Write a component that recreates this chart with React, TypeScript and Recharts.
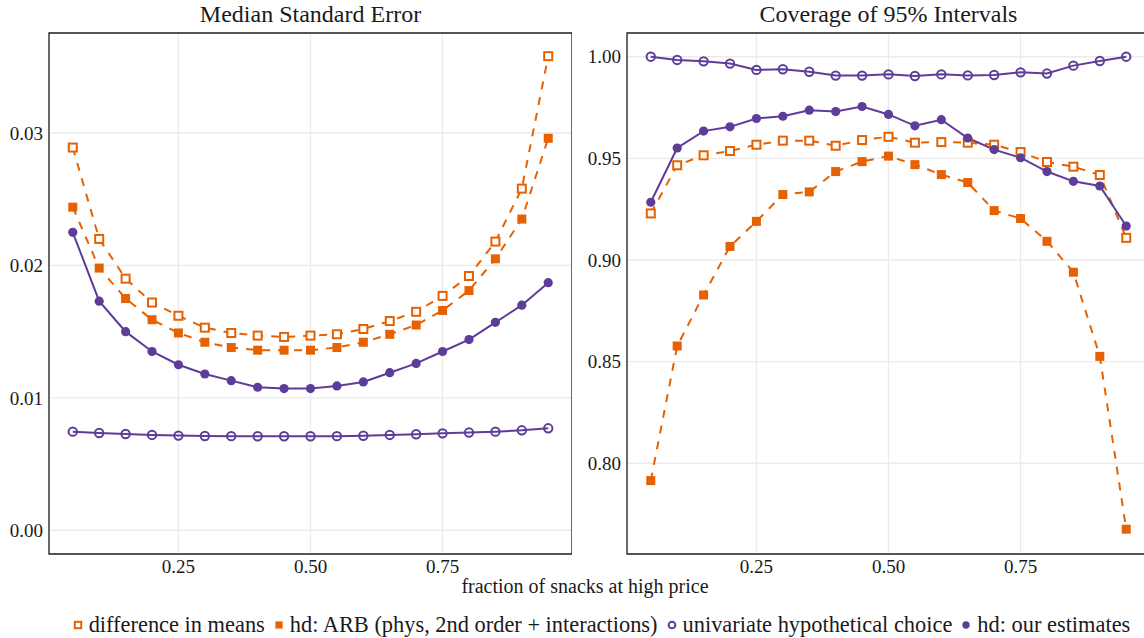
import React from 'react';
import { LineChart, Line, XAxis, YAxis, CartesianGrid, ReferenceArea } from 'recharts';

const fractions = [0.05, 0.1, 0.15, 0.2, 0.25, 0.3, 0.35, 0.4, 0.45, 0.5, 0.55, 0.6, 0.65, 0.7, 0.75, 0.8, 0.85, 0.9, 0.95];

// median standard error
const seDiffMeans = [0.0289, 0.022, 0.019, 0.0172, 0.0162, 0.0153, 0.0149, 0.0147, 0.0146, 0.0147, 0.0148, 0.0152, 0.0158, 0.0165, 0.0177, 0.0192, 0.0218, 0.0258, 0.0358];
const seArb = [0.0244, 0.0198, 0.0175, 0.0159, 0.0149, 0.0142, 0.0138, 0.0136, 0.0136, 0.0136, 0.0138, 0.0142, 0.0148, 0.0155, 0.0166, 0.0181, 0.0205, 0.0235, 0.0296];
const seUnivariate = [0.00745, 0.00735, 0.00727, 0.0072, 0.00715, 0.00712, 0.00711, 0.0071, 0.0071, 0.0071, 0.00711, 0.00714, 0.0072, 0.00725, 0.00732, 0.00738, 0.00745, 0.00755, 0.0077];
const seHd = [0.0225, 0.0173, 0.015, 0.0135, 0.0125, 0.0118, 0.0113, 0.0108, 0.0107, 0.0107, 0.0109, 0.0112, 0.0119, 0.0126, 0.0135, 0.0144, 0.0157, 0.017, 0.0187];

// coverage of 95% intervals
const covDiffMeans = [0.9229, 0.9466, 0.9515, 0.9536, 0.9567, 0.9587, 0.9587, 0.9562, 0.959, 0.9606, 0.9577, 0.958, 0.9577, 0.9567, 0.9531, 0.9482, 0.9459, 0.9418, 0.9109];
const covArb = [0.7915, 0.8577, 0.8828, 0.9067, 0.919, 0.9322, 0.9335, 0.9435, 0.9484, 0.9511, 0.9469, 0.942, 0.9381, 0.9243, 0.9204, 0.9092, 0.894, 0.8526, 0.7676];
const covUnivariate = [1.0, 0.9984, 0.9977, 0.9966, 0.9935, 0.9938, 0.9926, 0.9907, 0.9907, 0.9913, 0.9905, 0.9913, 0.9908, 0.991, 0.9923, 0.9917, 0.9956, 0.9979, 1.0];
const covHd = [0.9284, 0.9551, 0.9634, 0.9655, 0.9696, 0.9707, 0.9737, 0.973, 0.9755, 0.9716, 0.966, 0.969, 0.96, 0.9543, 0.9503, 0.9435, 0.9387, 0.9364, 0.9167];

const xTicks = [0.25, 0.5, 0.75];
const seTicks = [0, 0.01, 0.02, 0.03];
const covTicks = [0.8, 0.85, 0.9, 0.95, 1.0];

const seriesNames = ['difference in means', 'hd: ARB (phys, 2nd order + interactions)', 'univariate hypothetical choice', 'hd: our estimates'];

const ORANGE = '#e66101';
const PURPLE = '#5e3c99';
const FONT = '"Liberation Serif", "Times New Roman", "DejaVu Serif", serif';
const X_DOMAIN: [number, number] = [0.005, 0.995];

const seData = fractions.map((x, i) => ({ x, diff: seDiffMeans[i], arb: seArb[i], uni: seUnivariate[i], hd: seHd[i] }));
const covData = fractions.map((x, i) => ({ x, diff: covDiffMeans[i], arb: covArb[i], uni: covUnivariate[i], hd: covHd[i] }));

type Shape = 'openSquare' | 'square' | 'openCircle' | 'circle';

const Marker = ({ cx, cy, shape, size = 1 }: { cx: number; cy: number; shape: Shape; size?: number }) => {
  const color = shape === 'openSquare' || shape === 'square' ? ORANGE : PURPLE;
  if (shape === 'openSquare') return <rect x={cx - 4 * size} y={cy - 4 * size} width={8 * size} height={8 * size} fill="#fff" stroke={color} strokeWidth={2} />;
  if (shape === 'square') return <rect x={cx - 4.5 * size} y={cy - 4.5 * size} width={9 * size} height={9 * size} fill={color} />;
  if (shape === 'openCircle') return <circle cx={cx} cy={cy} r={4.2 * size} fill="none" stroke={color} strokeWidth={2} />;
  return <circle cx={cx} cy={cy} r={4.6 * size} fill={color} />;
};

const dotFor = (shape: Shape) => (p: any) => <Marker key={`${shape}-${p.index}`} cx={p.cx} cy={p.cy} shape={shape} />;

const Panel = ({ data, domain, ticks }: { data: any[]; domain: [number, number]; ticks: number[] }) => (
  <LineChart width={572} height={584} data={data} margin={{ top: 33, right: 0, bottom: 0, left: 0 }}>
    <CartesianGrid stroke="#ebebeb" strokeWidth={1.4} />
    <XAxis
      dataKey="x"
      type="number"
      domain={X_DOMAIN}
      ticks={xTicks}
      allowDataOverflow
      tickFormatter={(v: number) => v.toFixed(2)}
      axisLine={false}
      tickLine={false}
      tickSize={0}
      tickMargin={6}
      height={30}
      tick={{ fill: '#1a1a1a', fontSize: 19, fontFamily: FONT }}
    />
    <YAxis
      type="number"
      domain={domain}
      ticks={ticks}
      allowDataOverflow
      tickFormatter={(v: number) => v.toFixed(2)}
      axisLine={false}
      tickLine={false}
      tickSize={0}
      tickMargin={6}
      width={49}
      tick={{ fill: '#1a1a1a', fontSize: 19, fontFamily: FONT }}
    />
    <ReferenceArea x1={X_DOMAIN[0]} x2={X_DOMAIN[1]} y1={domain[0]} y2={domain[1]} fill="none" stroke="#222" strokeWidth={1.3} ifOverflow="visible" />
    <Line type="linear" dataKey="arb" stroke={ORANGE} strokeWidth={2} strokeDasharray="8 8" dot={dotFor('square')} isAnimationActive={false} />
    <Line type="linear" dataKey="diff" stroke={ORANGE} strokeWidth={2} strokeDasharray="8 8" dot={dotFor('openSquare')} isAnimationActive={false} />
    <Line type="linear" dataKey="uni" stroke={PURPLE} strokeWidth={2} dot={dotFor('openCircle')} isAnimationActive={false} />
    <Line type="linear" dataKey="hd" stroke={PURPLE} strokeWidth={2} dot={dotFor('circle')} isAnimationActive={false} />
  </LineChart>
);

const legendShapes: Shape[] = ['openSquare', 'square', 'openCircle', 'circle'];

export default function App() {
  return (
    <div style={{ position: 'absolute', left: 0, top: 0, width: 1144, height: 638, overflow: 'hidden', background: '#fff', fontFamily: FONT, color: '#1a1a1a' }}>
      <div style={{ position: 'absolute', left: 49, width: 523, top: 1, textAlign: 'center', fontSize: 24 }}>Median Standard Error</div>
      <div style={{ position: 'absolute', left: 627, width: 523, top: 1, textAlign: 'center', fontSize: 24 }}>Coverage of 95% Intervals</div>
      <div style={{ position: 'absolute', left: 0, top: 0 }}>
        <Panel data={seData} domain={[-0.00179, 0.03755]} ticks={seTicks} />
      </div>
      <div style={{ position: 'absolute', left: 578, top: 0 }}>
        <Panel data={covData} domain={[0.7554, 1.01165]} ticks={covTicks} />
      </div>
      <div style={{ position: 'absolute', left: 335, width: 500, top: 575, textAlign: 'center', fontSize: 20 }}>fraction of snacks at high price</div>
      <div style={{ position: 'absolute', left: 32, width: 1144, top: 612, display: 'flex', justifyContent: 'center', alignItems: 'center', fontSize: 22.4, whiteSpace: 'nowrap' }}>
        {seriesNames.map((name, i) => (
          <div key={name} style={{ display: 'flex', alignItems: 'center', marginRight: 7 }}>
            <svg width={14} height={14} style={{ marginRight: 4 }}>
              <Marker cx={7} cy={7} shape={legendShapes[i]} size={0.8} />
            </svg>
            <span>{name}</span>
          </div>
        ))}
      </div>
    </div>
  );
}
